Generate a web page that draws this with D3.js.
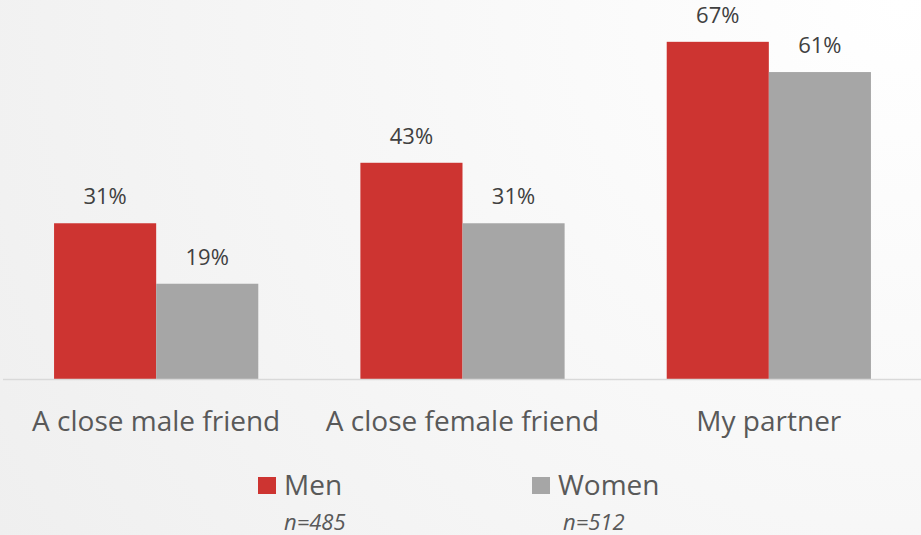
<!DOCTYPE html>
<html>
<head>
<meta charset="utf-8">
<script src="https://cdn.jsdelivr.net/npm/d3@7"></script>
<style>
  html, body { margin: 0; padding: 0; }
  svg { display: block; font-family: "Open Sans", sans-serif; }
</style>
</head>
<body>
<svg id="chart" width="921" height="535"></svg>
<script>
// Data
var categories = ["A close male friend", "A close female friend", "My partner"];
var series = ["Men", "Women"];
var menValues = [31, 43, 67];
var womenValues = [19, 31, 61];
var sampleSizes = ["n=485", "n=512"];
var colors = ["#cd3431", "#a6a6a6"];

var width = 921, height = 535;
var svg = d3.select("#chart");

// Background: soft gradient, white top-right to light grey bottom-left
var defs = svg.append("defs");
var grad = defs.append("radialGradient")
    .attr("id", "bg")
    .attr("gradientUnits", "userSpaceOnUse")
    .attr("cx", 900).attr("cy", 0).attr("r", 1050);
grad.append("stop").attr("offset", "0%").attr("stop-color", "#ffffff");
grad.append("stop").attr("offset", "100%").attr("stop-color", "#efefef");
svg.append("rect").attr("width", width).attr("height", height).attr("fill", "url(#bg)");

// Scales
var x0 = d3.scaleBand().domain(categories).range([3, 922]).paddingInner(1 / 3).paddingOuter(1 / 6);
var x1 = d3.scaleBand().domain(series).range([0, x0.bandwidth()]);
var y = d3.scaleLinear().domain([0, 75]).range([379.5, 1.5]);

var rows = categories.map(function(c, i) {
    return { cat: c, vals: [menValues[i], womenValues[i]] };
});

var groups = svg.selectAll("g.group").data(rows).enter().append("g")
    .attr("class", "group")
    .attr("transform", function(d) { return "translate(" + x0(d.cat) + ",0)"; });

var bars = groups.selectAll("g.bar").data(function(d) {
    return d.vals.map(function(v, j) { return { s: series[j], v: v, j: j }; });
}).enter().append("g").attr("class", "bar");

bars.append("rect")
    .attr("x", function(d) { return x1(d.s); })
    .attr("y", function(d) { return y(d.v); })
    .attr("width", x1.bandwidth())
    .attr("height", function(d) { return y(0) - y(d.v); })
    .attr("fill", function(d) { return colors[d.j]; });

// Value labels above bars
bars.append("text")
    .attr("x", function(d) { return x1(d.s) + x1.bandwidth() / 2; })
    .attr("y", function(d) { return y(d.v) - 19; })
    .attr("text-anchor", "middle")
    .style("font-size", "22px")
    .style("fill", "#404040")
    .text(function(d) { return d.v + "%"; });

// Baseline
svg.append("line")
    .attr("x1", 3).attr("x2", 921)
    .attr("y1", y(0)).attr("y2", y(0))
    .attr("stroke", "#d9d9d9").attr("stroke-width", 1.5);

// Category labels
svg.selectAll("text.cat").data(categories).enter().append("text")
    .attr("class", "cat")
    .attr("x", function(d) { return x0(d) + x0.bandwidth() / 2; })
    .attr("y", 431)
    .attr("text-anchor", "middle")
    .style("font-size", "28px")
    .style("fill", "#595959")
    .text(function(d) { return d; });

// Legend
var legendX = [258, 532];
var legend = svg.selectAll("g.legend").data(series).enter().append("g")
    .attr("class", "legend")
    .attr("transform", function(d, i) { return "translate(" + legendX[i] + ",0)"; });

legend.append("rect")
    .attr("x", 0).attr("y", 477)
    .attr("width", 18).attr("height", 17)
    .attr("fill", function(d, i) { return colors[i]; });

legend.append("text")
    .attr("x", 26).attr("y", 495)
    .style("font-size", "28px")
    .style("fill", "#595959")
    .text(function(d) { return d; });

legend.append("text")
    .attr("x", function(d, i) { return i === 0 ? 26 : 31; })
    .attr("y", 530)
    .style("font-size", "22px")
    .style("font-style", "italic")
    .style("fill", "#595959")
    .text(function(d, i) { return sampleSizes[i]; });
</script>
</body>
</html>
